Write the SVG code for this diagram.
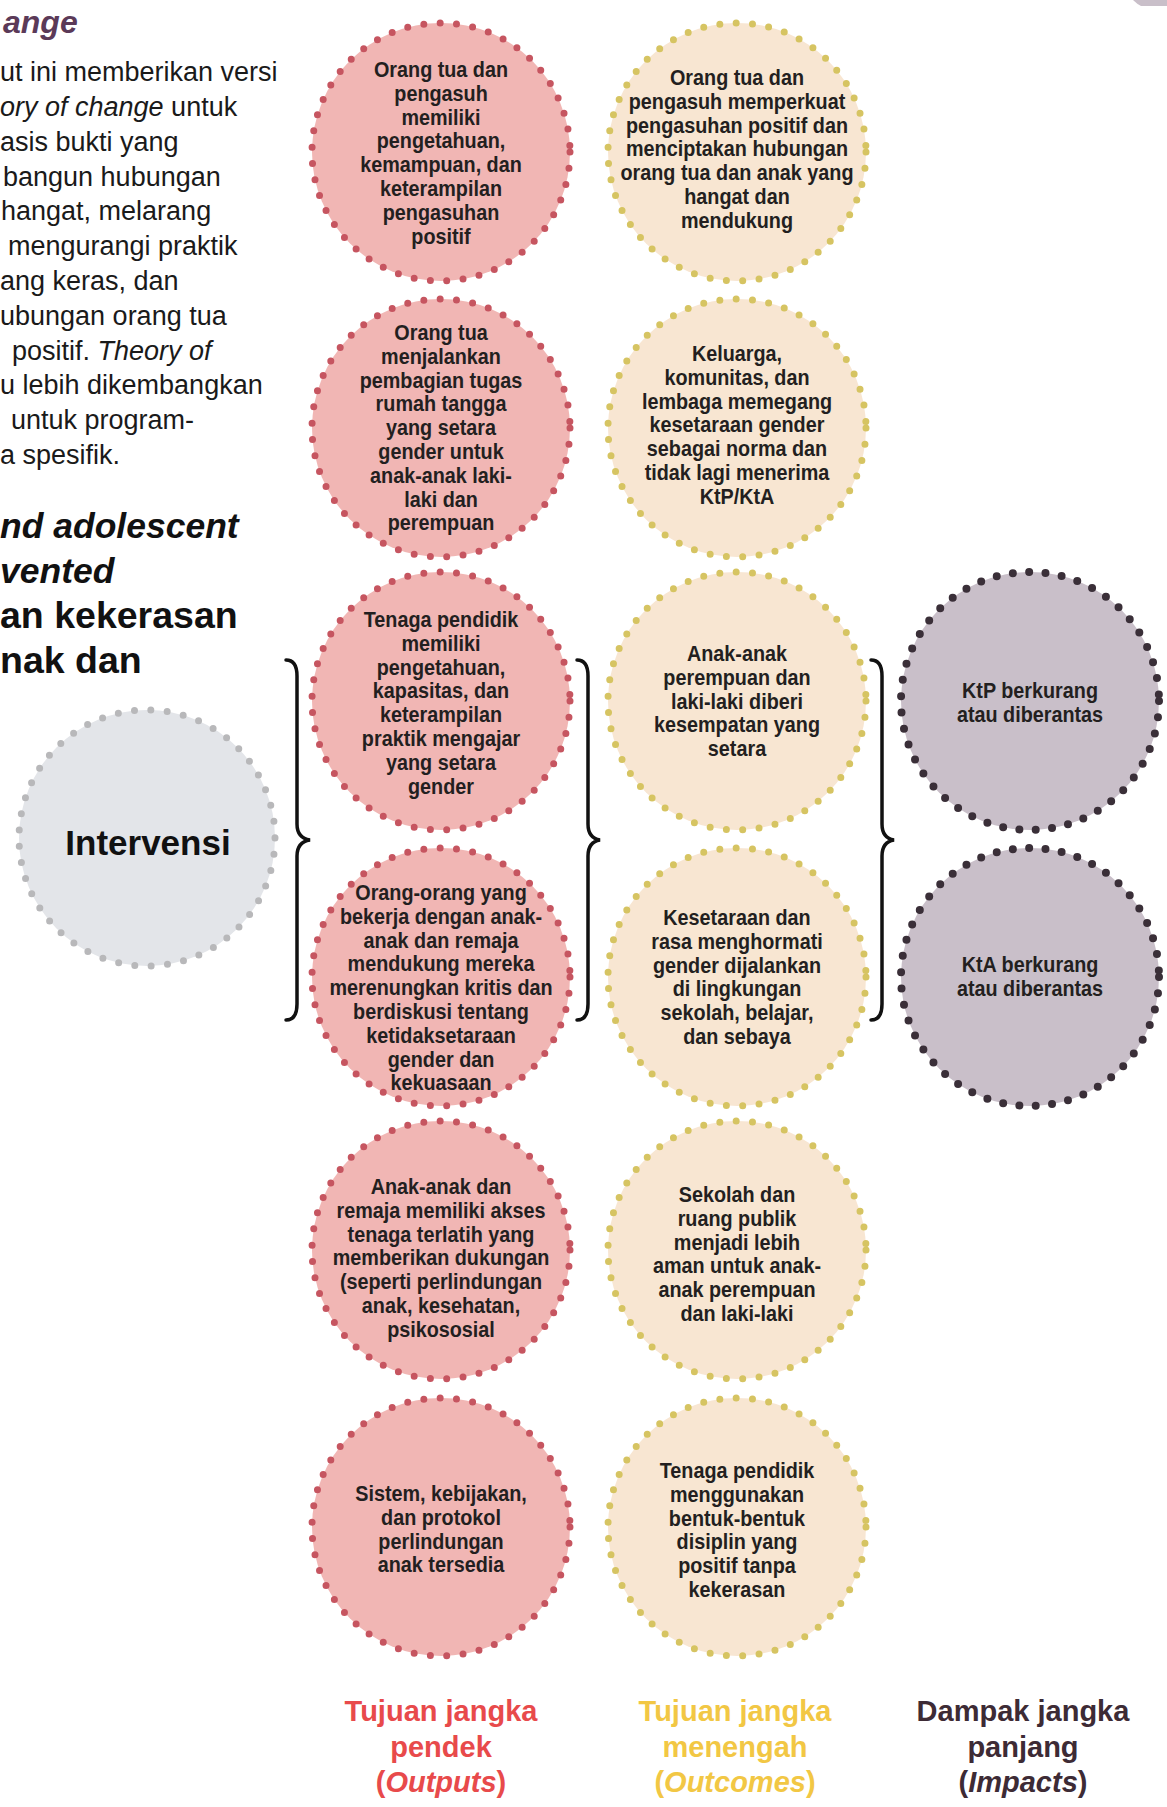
<svg xmlns="http://www.w3.org/2000/svg" width="1167" height="1807" viewBox="0 0 1167 1807">
<style>
.para{font-family:"Liberation Sans",Arial,sans-serif;font-size:27px;fill:#1a1a1a}
.head{font-family:"Liberation Sans",Arial,sans-serif;font-size:37.5px;font-weight:bold;fill:#111}
.headi{font-family:"Liberation Sans",Arial,sans-serif;font-size:35.5px;font-weight:bold;font-style:italic;fill:#111}
.node{font-family:"Liberation Sans",Arial,sans-serif;font-size:22px;font-weight:bold;fill:#231f20;text-anchor:middle}
.lbl{font-family:"Liberation Sans",Arial,sans-serif;font-size:29px;font-weight:bold;text-anchor:middle}
.pink{fill:#f1b6b4;stroke:#c65560}
.yel{fill:#f8e6d2;stroke:#d6c462}
.pur{fill:#c9bfc9;stroke:#3a2f38}
.gry{fill:#e3e5e9;stroke:#b8b8ba}
.dot{stroke-width:7;stroke-linecap:round;stroke-dasharray:0 16.4}
.big{stroke-width:8}
.brace{fill:none;stroke:#111;stroke-width:3.5;stroke-linecap:round}
</style>
<rect width="1167" height="1807" fill="#ffffff"/>
<path d="M1133,0 L1167,0 L1167,6 L1141,6 Q1137,4 1133,0 Z" fill="#c9bfc9"/>

<g id="intro">
<text x="3" y="33" style="font-family:'Liberation Sans',Arial,sans-serif;font-size:32px;font-weight:bold;font-style:italic;fill:#5b3a58">ange</text>
<text class="para" x="0" y="81">ut ini memberikan versi</text>
<text class="para" x="0" y="116"><tspan font-style="italic">ory of change</tspan> untuk</text>
<text class="para" x="0" y="151">asis bukti yang</text>
<text class="para" x="3" y="186">bangun hubungan</text>
<text class="para" x="1" y="220">hangat, melarang</text>
<text class="para" x="8" y="255">mengurangi praktik</text>
<text class="para" x="0" y="290">ang keras, dan</text>
<text class="para" x="0" y="325">ubungan orang tua</text>
<text class="para" x="12" y="360">positif. <tspan font-style="italic">Theory of</tspan></text>
<text class="para" x="0" y="394">u lebih dikembangkan</text>
<text class="para" x="11" y="429">untuk program-</text>
<text class="para" x="0" y="464">a spesifik.</text>
<text class="headi" x="0" y="538">nd adolescent</text>
<text class="headi" x="0" y="583">vented</text>
<text class="head" x="0" y="628">an kekerasan</text>
<text class="head" x="0" y="673">nak dan</text>
</g>

<g id="connectors">
<path class="brace" d="M286,660 Q297,660 297,676 L297,824 Q297,838 310,840 Q297,842 297,856 L297,1004 Q297,1020 286,1020"/>
<path class="brace" d="M577,660 Q588,660 588,676 L588,824 Q588,838 600,840 Q588,842 588,856 L588,1004 Q588,1020 577,1020"/>
<path class="brace" d="M871,660 Q882,660 882,676 L882,824 Q882,838 894,840 Q882,842 882,856 L882,1004 Q882,1020 871,1020"/>
</g>

<g id="intervensi">
<circle class="gry dot" cx="147" cy="838" r="128"/>
<text x="148" y="855" text-anchor="middle" style="font-family:'Liberation Sans',Arial,sans-serif;font-size:35px;font-weight:bold;fill:#111">Intervensi</text>
</g>

<g id="output1">
<circle class="pink dot" cx="441" cy="152" r="129"/>
<text class="node" transform="translate(441 0) scale(0.9 1)" y="77"><tspan x="0">Orang tua dan</tspan><tspan x="0" dy="23.8">pengasuh</tspan><tspan x="0" dy="23.8">memiliki</tspan><tspan x="0" dy="23.8">pengetahuan,</tspan><tspan x="0" dy="23.8">kemampuan, dan</tspan><tspan x="0" dy="23.8">keterampilan</tspan><tspan x="0" dy="23.8">pengasuhan</tspan><tspan x="0" dy="23.8">positif</tspan></text>
</g>
<g id="output2">
<circle class="pink dot" cx="441" cy="428" r="129"/>
<text class="node" transform="translate(441 0) scale(0.9 1)" y="340"><tspan x="0">Orang tua</tspan><tspan x="0" dy="23.8">menjalankan</tspan><tspan x="0" dy="23.8">pembagian tugas</tspan><tspan x="0" dy="23.8">rumah tangga</tspan><tspan x="0" dy="23.8">yang setara</tspan><tspan x="0" dy="23.8">gender untuk</tspan><tspan x="0" dy="23.8">anak-anak laki-</tspan><tspan x="0" dy="23.8">laki dan</tspan><tspan x="0" dy="23.8">perempuan</tspan></text>
</g>
<g id="output3">
<circle class="pink dot" cx="441" cy="701" r="129"/>
<text class="node" transform="translate(441 0) scale(0.9 1)" y="627"><tspan x="0">Tenaga pendidik</tspan><tspan x="0" dy="23.8">memiliki</tspan><tspan x="0" dy="23.8">pengetahuan,</tspan><tspan x="0" dy="23.8">kapasitas, dan</tspan><tspan x="0" dy="23.8">keterampilan</tspan><tspan x="0" dy="23.8">praktik mengajar</tspan><tspan x="0" dy="23.8">yang setara</tspan><tspan x="0" dy="23.8">gender</tspan></text>
</g>
<g id="output4">
<circle class="pink dot" cx="441" cy="977" r="129"/>
<text class="node" transform="translate(441 0) scale(0.9 1)" y="900"><tspan x="0">Orang-orang yang</tspan><tspan x="0" dy="23.8">bekerja dengan anak-</tspan><tspan x="0" dy="23.8">anak dan remaja</tspan><tspan x="0" dy="23.8">mendukung mereka</tspan><tspan x="0" dy="23.8">merenungkan kritis dan</tspan><tspan x="0" dy="23.8">berdiskusi tentang</tspan><tspan x="0" dy="23.8">ketidaksetaraan</tspan><tspan x="0" dy="23.8">gender dan</tspan><tspan x="0" dy="23.8">kekuasaan</tspan></text>
</g>
<g id="output5">
<circle class="pink dot" cx="441" cy="1250" r="129"/>
<text class="node" transform="translate(441 0) scale(0.9 1)" y="1194"><tspan x="0">Anak-anak dan</tspan><tspan x="0" dy="23.8">remaja memiliki akses</tspan><tspan x="0" dy="23.8">tenaga terlatih yang</tspan><tspan x="0" dy="23.8">memberikan dukungan</tspan><tspan x="0" dy="23.8">(seperti perlindungan</tspan><tspan x="0" dy="23.8">anak, kesehatan,</tspan><tspan x="0" dy="23.8">psikososial</tspan></text>
</g>
<g id="output6">
<circle class="pink dot" cx="441" cy="1527" r="129"/>
<text class="node" transform="translate(441 0) scale(0.9 1)" y="1501"><tspan x="0">Sistem, kebijakan,</tspan><tspan x="0" dy="23.8">dan protokol</tspan><tspan x="0" dy="23.8">perlindungan</tspan><tspan x="0" dy="23.8">anak tersedia</tspan></text>
</g>

<g id="outcome1">
<circle class="yel dot" cx="737" cy="152" r="129"/>
<text class="node" transform="translate(737 0) scale(0.9 1)" y="85"><tspan x="0">Orang tua dan</tspan><tspan x="0" dy="23.8">pengasuh memperkuat</tspan><tspan x="0" dy="23.8">pengasuhan positif dan</tspan><tspan x="0" dy="23.8">menciptakan hubungan</tspan><tspan x="0" dy="23.8">orang tua dan anak yang</tspan><tspan x="0" dy="23.8">hangat dan</tspan><tspan x="0" dy="23.8">mendukung</tspan></text>
</g>
<g id="outcome2">
<circle class="yel dot" cx="737" cy="428" r="129"/>
<text class="node" transform="translate(737 0) scale(0.9 1)" y="361"><tspan x="0">Keluarga,</tspan><tspan x="0" dy="23.8">komunitas, dan</tspan><tspan x="0" dy="23.8">lembaga memegang</tspan><tspan x="0" dy="23.8">kesetaraan gender</tspan><tspan x="0" dy="23.8">sebagai norma dan</tspan><tspan x="0" dy="23.8">tidak lagi menerima</tspan><tspan x="0" dy="23.8">KtP/KtA</tspan></text>
</g>
<g id="outcome3">
<circle class="yel dot" cx="737" cy="701" r="129"/>
<text class="node" transform="translate(737 0) scale(0.9 1)" y="661"><tspan x="0">Anak-anak</tspan><tspan x="0" dy="23.8">perempuan dan</tspan><tspan x="0" dy="23.8">laki-laki diberi</tspan><tspan x="0" dy="23.8">kesempatan yang</tspan><tspan x="0" dy="23.8">setara</tspan></text>
</g>
<g id="outcome4">
<circle class="yel dot" cx="737" cy="977" r="129"/>
<text class="node" transform="translate(737 0) scale(0.9 1)" y="925"><tspan x="0">Kesetaraan dan</tspan><tspan x="0" dy="23.8">rasa menghormati</tspan><tspan x="0" dy="23.8">gender dijalankan</tspan><tspan x="0" dy="23.8">di lingkungan</tspan><tspan x="0" dy="23.8">sekolah, belajar,</tspan><tspan x="0" dy="23.8">dan sebaya</tspan></text>
</g>
<g id="outcome5">
<circle class="yel dot" cx="737" cy="1250" r="129"/>
<text class="node" transform="translate(737 0) scale(0.9 1)" y="1202"><tspan x="0">Sekolah dan</tspan><tspan x="0" dy="23.8">ruang publik</tspan><tspan x="0" dy="23.8">menjadi lebih</tspan><tspan x="0" dy="23.8">aman untuk anak-</tspan><tspan x="0" dy="23.8">anak perempuan</tspan><tspan x="0" dy="23.8">dan laki-laki</tspan></text>
</g>
<g id="outcome6">
<circle class="yel dot" cx="737" cy="1527" r="129"/>
<text class="node" transform="translate(737 0) scale(0.9 1)" y="1478"><tspan x="0">Tenaga pendidik</tspan><tspan x="0" dy="23.8">menggunakan</tspan><tspan x="0" dy="23.8">bentuk-bentuk</tspan><tspan x="0" dy="23.8">disiplin yang</tspan><tspan x="0" dy="23.8">positif tanpa</tspan><tspan x="0" dy="23.8">kekerasan</tspan></text>
</g>

<g id="impact1">
<circle class="pur dot big" cx="1030" cy="701" r="129"/>
<text class="node" transform="translate(1030 0) scale(0.9 1)" y="698"><tspan x="0">KtP berkurang</tspan><tspan x="0" dy="23.8">atau diberantas</tspan></text>
</g>
<g id="impact2">
<circle class="pur dot big" cx="1030" cy="977" r="129"/>
<text class="node" transform="translate(1030 0) scale(0.9 1)" y="972"><tspan x="0">KtA  berkurang</tspan><tspan x="0" dy="23.8">atau diberantas</tspan></text>
</g>

<g id="labels">
<text class="lbl" x="441" y="1721" fill="#e84a4b"><tspan x="441">Tujuan jangka</tspan><tspan x="441" dy="35.5">pendek</tspan><tspan x="441" dy="35.5">(<tspan font-style="italic">Outputs</tspan>)</tspan></text>
<text class="lbl" x="735" y="1721" fill="#f2c744"><tspan x="735">Tujuan jangka</tspan><tspan x="735" dy="35.5">menengah</tspan><tspan x="735" dy="35.5">(<tspan font-style="italic">Outcomes</tspan>)</tspan></text>
<text class="lbl" x="1023" y="1721" fill="#3d2b35"><tspan x="1023">Dampak jangka</tspan><tspan x="1023" dy="35.5">panjang</tspan><tspan x="1023" dy="35.5">(<tspan font-style="italic">Impacts</tspan>)</tspan></text>
</g>
</svg>
